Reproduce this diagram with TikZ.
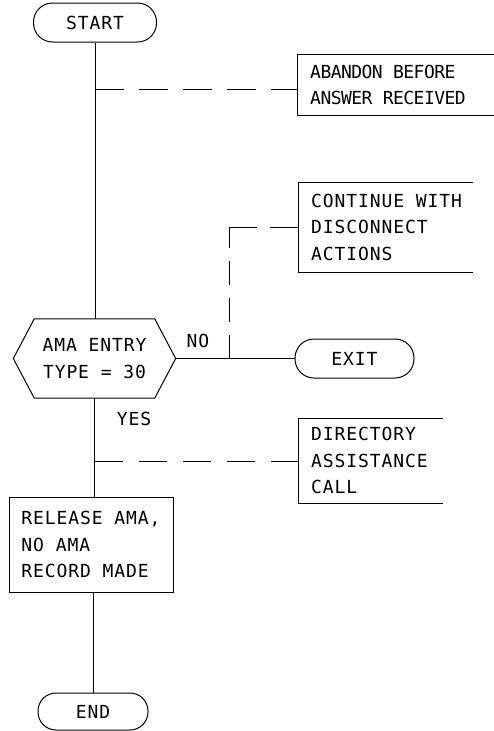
\documentclass[tikz,border=0pt]{standalone}
\usepackage{fontspec}
\newfontfamily\plotfont[LetterSpace=5]{DejaVu Sans Mono}
\newfontfamily\plotfontn[LetterSpace=-3]{DejaVu Sans Mono}
\newcommand\txtfont{\fontsize{18pt}{26.5pt}\selectfont\plotfont}
\newcommand\txtfontn{\fontsize{18pt}{26.5pt}\selectfont\plotfontn}
\begin{document}
\begin{tikzpicture}[x=1pt,y=-1pt,
  every node/.style={inner sep=0pt, font=\txtfont},
  ln/.style={line width=1pt},
  dsh/.style={line width=1pt, dash pattern=on 28.5pt off 15.5pt},
  dshv/.style={line width=1pt, dash pattern=on 24pt off 13pt},
  dshh/.style={line width=1pt, dash pattern=on 28pt off 13pt},
  term/.style={draw, line width=1pt, rounded corners=19pt, minimum height=39pt},
  frame/.style={anchor=north west, draw=none},
  txt/.style={anchor=west, align=left},
  lbl/.style={}]
\useasboundingbox (0,0) rectangle (494,731);

% terminals
\node[term, minimum width=123pt] (st) at (95,22.5) {START};
\node[term, minimum width=119pt] (ex) at (354.5,358.5) {EXIT};
\node[term, minimum width=110pt, minimum height=37pt, rounded corners=18pt] (en) at (93,711.5) {END};

% decision
\node[minimum width=162pt, minimum height=79pt, align=center] (dec) at (94.5,358.5) {AMA ENTRY\\TYPE = 30};
\draw[ln] (dec.west) -- ([xshift=21pt]dec.north west) -- ([xshift=-21pt]dec.north east)
  -- (dec.east) -- ([xshift=-21pt]dec.south east) -- ([xshift=21pt]dec.south west) -- cycle;

% process box
\node[draw, line width=1pt, minimum width=164pt, minimum height=95pt, align=left] (rel) at (91,544.5) {RELEASE AMA,\\NO AMA\\RECORD MADE};

% open side boxes
\node[frame, minimum width=197pt, minimum height=61pt] (abb) at (297,54) {};
\node[txt, font=\txtfontn] (ab) at ([xshift=13pt]abb.west) {ABANDON BEFORE\\ANSWER RECEIVED};
\draw[ln] (abb.north east) -- (abb.north west) -- (abb.south west) -- (abb.south east);

\node[frame, minimum width=175pt, minimum height=90pt] (cob) at (298,182) {};
\node[txt] (co) at ([xshift=13pt]cob.west) {CONTINUE WITH\\DISCONNECT\\ACTIONS};
\draw[ln] (cob.north east) -- (cob.north west) -- (cob.south west) -- (cob.south east);

\node[frame, minimum width=145pt, minimum height=85pt] (dib) at (298,418) {};
\node[txt] (di) at ([xshift=13pt]dib.west) {DIRECTORY\\ASSISTANCE\\CALL};
\draw[ln] (dib.north east) -- (dib.north west) -- (dib.south west) -- (dib.south east);

% labels
\node[lbl] (no) at (198,341) {NO};
\node[lbl] (yes) at (134,418.5) {YES};

% flow lines
\draw[ln] (st.south) -- (st.south |- dec.north);
\draw[ln] (dec.south) -- (dec.south |- rel.north);
\draw[ln] (en.north |- rel.south) -- (en.north);
\draw[ln] (dec.east) -- (ex.west);

% dashed annotation lines
\coordinate (j1) at (95,89);
\draw[dsh] (j1) -- (j1 -| abb.west);
\coordinate (j2) at (229,358.5);
\coordinate (c2) at (j2 |- cob.west);
\draw[dshv] (j2) -- (c2);
\draw[dshh] (c2) -- (cob.west);
\coordinate (j3) at (94.5,461);
\draw[dsh] (j3) -- (j3 -| dib.west);
\end{tikzpicture}
\end{document}
